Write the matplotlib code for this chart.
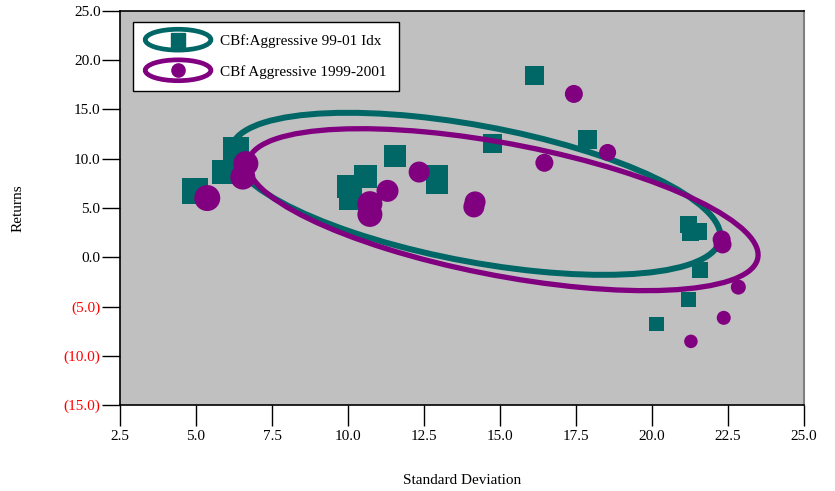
import numpy as np
import matplotlib
matplotlib.use("Agg")
import matplotlib.pyplot as plt
from matplotlib.patches import Ellipse
from matplotlib.lines import Line2D
from matplotlib.legend_handler import HandlerBase

# ---------------- data ----------------
idx_label = "CBf:Aggressive 99-01 Idx"
fund_label = "CBf Aggressive 1999-2001"

idx_sd = [4.96, 5.91, 6.32, 10.03, 10.08, 10.57, 11.56, 12.94, 12.94, 14.74,
          16.12, 17.88, 21.21, 21.28, 21.53, 21.59, 21.19, 20.14]
idx_ret = [6.76, 8.65, 10.86, 7.20, 5.95, 8.18, 10.23, 8.21, 7.50, 11.59,
           18.49, 11.93, 3.30, 2.52, 2.62, -1.27, -4.32, -6.77]
idx_size = [26, 24, 26, 23, 23, 23, 22, 22, 22, 19, 19, 19, 17, 17, 17, 16, 15, 14.5]

fund_sd = [5.37, 6.64, 6.54, 10.72, 10.72, 11.30, 12.34, 14.18, 14.14, 17.43,
           16.46, 18.54, 22.29, 22.32, 22.84, 22.36, 21.28]
fund_ret = [6.01, 9.51, 8.14, 5.44, 4.35, 6.74, 8.65, 5.62, 5.11, 16.58,
            9.59, 10.64, 1.81, 1.30, -3.03, -6.15, -8.54]
fund_size = [26, 25, 25, 25, 25, 22, 21, 21, 21, 18, 18, 17, 18, 18, 15, 14, 13.5]

# ellipse: centre and shape factor [[a, 0], [b, c]] in data units
idx_ell_center = [14.20, 6.44]
idx_ell_shape = [8.05, -4.29, 7.02]
fund_ell_center = [15.10, 4.83]
fund_ell_shape = [8.39, -4.59, 6.82]

x_ticks = [2.5, 5.0, 7.5, 10.0, 12.5, 15.0, 17.5, 20.0, 22.5, 25.0]
y_ticks = [-15, -10, -5, 0, 5, 10, 15, 20, 25]

TEAL = "#006666"
PURPLE = "#800080"

plt.rcParams['font.family'] = ['Liberation Serif', 'DejaVu Serif']

fig = plt.figure(figsize=(8.35, 4.91), dpi=100)
ax = fig.add_axes([120/835, 1-405/491, (804-120)/835, (405-11)/491])
ax.set_facecolor("#C0C0C0")
ax.set_xlim(2.5, 25.0)
ax.set_ylim(-15, 25)


def ellipse_patch(center, shape, color, lw, z):
    a, b, c = shape
    L = np.array([[a, 0.0], [b, c]])
    M = L @ L.T
    vals, vecs = np.linalg.eigh(M)
    order = vals.argsort()[::-1]
    vals, vecs = vals[order], vecs[:, order]
    angle = np.degrees(np.arctan2(vecs[1, 0], vecs[0, 0]))
    w, h = 2*np.sqrt(vals)
    return Ellipse(center, w, h, angle=angle, fill=False, ec=color, lw=lw, zorder=z)


px2pt = 0.72
ax.scatter(idx_sd, idx_ret, s=(np.array(idx_size)*px2pt)**2, marker='s',
           color=TEAL, linewidths=0, zorder=2)
ax.add_patch(ellipse_patch(idx_ell_center, idx_ell_shape, TEAL, 4.3, 3))
ax.scatter(fund_sd, fund_ret, s=(np.array(fund_size)*px2pt*1.0)**2, marker='o',
           color=PURPLE, linewidths=0, zorder=4)
ax.add_patch(ellipse_patch(fund_ell_center, fund_ell_shape, PURPLE, 3.8, 5))

# ticks
ax.set_xticks(x_ticks)
ax.set_xticklabels([f"{v:.1f}" for v in x_ticks], fontsize=11)
ax.set_yticks(y_ticks)
ylabels = [f"({abs(v):.1f})" if v < 0 else f"{v:.1f}" for v in y_ticks]
ax.set_yticklabels(ylabels, fontsize=11)
for lab, v in zip(ax.get_yticklabels(), y_ticks):
    lab.set_color('#FF0000' if v < 0 else 'black')
ax.tick_params(axis='x', direction='out', length=15, width=1, pad=3)
ax.tick_params(axis='y', direction='out', length=13, width=1, pad=1)

for s in ['left', 'bottom', 'top']:
    ax.spines[s].set_color('black')
    ax.spines[s].set_linewidth(1.2)
ax.spines['right'].set_color('#808080')
ax.spines['right'].set_linewidth(1.5)

fig.text(18/835, 1-208/491, "Returns", rotation=90, ha='center', va='center', fontsize=11)
fig.text(462/835, 1-481/491, "Standard Deviation", ha='center', va='center', fontsize=11)


class RingHandler(HandlerBase):
    def __init__(self, color, marker):
        super().__init__()
        self.color = color
        self.marker = marker

    def create_artists(self, legend, orig_handle, xdescent, ydescent, width,
                       height, fontsize, trans):
        cx = width/2 - xdescent
        cy = height/2 - ydescent
        e = Ellipse((cx, cy), width, 15, fill=False, ec=self.color, lw=3.4,
                    transform=trans)
        m = Line2D([cx], [cy], marker=self.marker, ms=9.5, color=self.color,
                   ls='', transform=trans)
        return [e, m]


h1 = Line2D([], [], color=TEAL)
h2 = Line2D([], [], color=PURPLE)
leg = ax.legend([h1, h2], [idx_label, fund_label],
                handler_map={h1: RingHandler(TEAL, 's'), h2: RingHandler(PURPLE, 'o')},
                loc='upper left', bbox_to_anchor=(0.019, 0.972), borderaxespad=0,
                fontsize=11, handlelength=4.3, handletextpad=0.6,
                labelspacing=1.1, borderpad=0.8, fancybox=False, framealpha=1,
                edgecolor='black')
leg.get_frame().set_linewidth(1.0)
leg.set_zorder(10)

fig.savefig("out.png", dpi=100)
